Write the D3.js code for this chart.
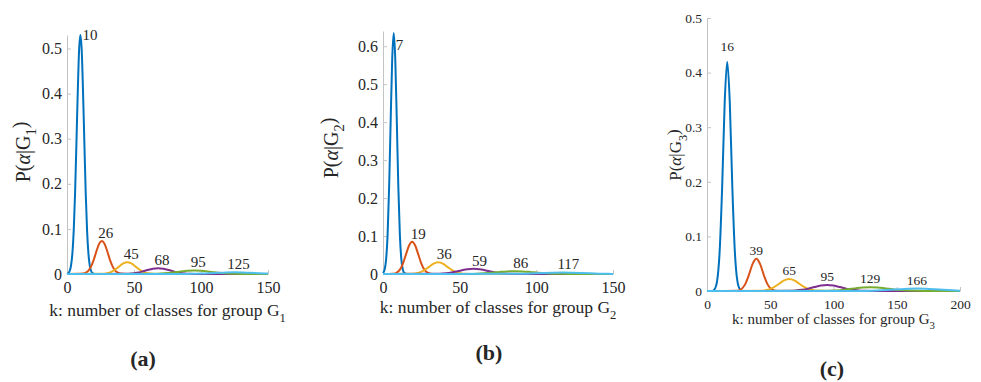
<!DOCTYPE html>
<html>
<head>
<meta charset="utf-8">
<script src="https://cdn.jsdelivr.net/npm/d3@7"></script>
<style>
  body { margin: 0; background: #fff; }
  svg { display: block; }
  text { font-family: "Liberation Serif", "DejaVu Serif", serif; fill: #262626; }
</style>
</head>
<body>
<script>
// posterior curves P(alpha|G) for the three groups, read as [k, p] pairs
var curvesA = [
  [[0,0],[1,0.002],[2,0.0066],[3,0.0185],[4,0.045],[5,0.095],[6,0.177],[7,0.286],[8,0.40],[9,0.495],[10,0.53],[11,0.495],[12,0.40],[13,0.286],[14,0.177],[15,0.095],[16,0.045],[17,0.0185],[18,0.0066],[19,0.002],[21,0],[150,0]],
  [[0,0],[12,0.0009],[14,0.0028],[16,0.0075],[18,0.017],[20,0.032],[22,0.051],[24,0.067],[26,0.073],[28,0.067],[30,0.051],[32,0.032],[34,0.017],[36,0.0075],[38,0.0028],[40,0.0009],[44,0],[150,0]],
  [[0,0],[27,0.0006],[30,0.0018],[33,0.0047],[36,0.010],[39,0.017],[42,0.0234],[45,0.026],[48,0.0234],[51,0.017],[54,0.010],[57,0.0047],[60,0.0018],[63,0.0006],[68,0],[150,0]],
  [[0,0],[44,0.0004],[48,0.0011],[52,0.0027],[56,0.0053],[60,0.0088],[64,0.0118],[68,0.013],[72,0.0118],[76,0.0088],[80,0.0053],[84,0.0027],[88,0.0011],[92,0.0004],[98,0],[150,0]],
  [[0,0],[65,0.00035],[70,0.0009],[75,0.002],[80,0.0037],[85,0.0057],[90,0.0073],[95,0.008],[100,0.0073],[105,0.0057],[110,0.0037],[115,0.002],[120,0.0009],[125,0.00035],[131,0],[150,0]],
  [[0,0],[90,0.0001],[95,0.0004],[101,0.0009],[107,0.0018],[113,0.0028],[119,0.0036],[125,0.004],[131,0.0036],[137,0.0028],[143,0.0018],[150,0.0009]]
];
var curvesB = [
  [[0,0.0024],[1,0.0106],[2,0.037],[3,0.103],[4,0.229],[5,0.403],[6,0.566],[7,0.635],[8,0.566],[9,0.403],[10,0.229],[11,0.103],[12,0.037],[13,0.0106],[14,0.0024],[16,0],[150,0]],
  [[0,0],[7,0.0009],[9,0.0037],[11,0.0115],[13,0.0276],[15,0.0516],[17,0.075],[19,0.085],[21,0.075],[23,0.0516],[25,0.0276],[27,0.0115],[29,0.0037],[31,0.0009],[35,0],[150,0]],
  [[0,0],[18,0.00034],[21,0.0014],[24,0.0042],[27,0.0101],[30,0.0188],[33,0.0273],[36,0.031],[39,0.0273],[42,0.0188],[45,0.0101],[48,0.0042],[51,0.0014],[54,0.00034],[58,0],[150,0]],
  [[0,0],[35,0.0004],[39,0.0012],[43,0.0029],[47,0.0058],[51,0.0094],[55,0.0127],[59,0.014],[63,0.0127],[67,0.0094],[71,0.0058],[75,0.0029],[79,0.0012],[83,0.0004],[90,0],[150,0]],
  [[0,0],[56,0.00033],[61,0.00086],[66,0.0019],[71,0.0034],[76,0.0053],[81,0.0069],[86,0.0075],[91,0.0069],[96,0.0053],[101,0.0034],[106,0.0019],[111,0.00086],[116,0.00033],[122,0],[150,0]],
  [[0,0],[87,0.0004],[93,0.0009],[99,0.0018],[105,0.0028],[111,0.0036],[117,0.004],[123,0.0036],[129,0.0028],[135,0.0018],[141,0.0009],[147,0.0004],[150,0.0002]]
];
var curvesC = [
  [[0,0],[4,0],[6,0.0032],[8,0.0185],[10,0.0726],[12,0.192],[14,0.346],[16,0.42],[18,0.346],[20,0.192],[22,0.0726],[24,0.0185],[26,0.0032],[28,0],[200,0]],
  [[0,0],[24,0.00065],[27,0.0033],[30,0.0117],[33,0.0287],[36,0.0493],[39,0.059],[42,0.0493],[45,0.0287],[48,0.0117],[51,0.0033],[54,0.00065],[58,0],[200,0]],
  [[0,0],[41,0.00024],[45,0.001],[49,0.003],[53,0.0071],[57,0.0133],[61,0.0194],[65,0.022],[69,0.0194],[73,0.0133],[77,0.0071],[81,0.003],[85,0.001],[89,0.00024],[95,0],[200,0]],
  [[0,0],[65,0.00027],[70,0.00083],[75,0.0021],[80,0.0043],[85,0.0073],[90,0.0099],[95,0.011],[100,0.0099],[105,0.0073],[110,0.0043],[115,0.0021],[120,0.00083],[125,0.00027],[132,0],[200,0]],
  [[0,0],[93,0.00026],[99,0.0007],[105,0.0016],[111,0.0031],[117,0.0048],[123,0.0064],[129,0.007],[135,0.0064],[141,0.0048],[147,0.0031],[153,0.0016],[159,0.0007],[165,0.00026],[172,0],[200,0]],
  [[0,0],[124,0.00021],[131,0.00054],[138,0.0012],[145,0.0021],[152,0.0032],[159,0.0041],[166,0.0045],[173,0.0041],[180,0.0032],[187,0.0021],[194,0.0012],[200,0.0006]]
];

// mode of each curve (k with the highest probability)
var peaksA = [10, 26, 45, 68, 95, 125];
var peaksB = [7, 19, 36, 59, 86, 117];
var peaksC = [16, 39, 65, 95, 129, 166];

var xTicksAB = [0, 50, 100, 150];
var xTicksC = [0, 50, 100, 150, 200];
var yTicksA = [0, 0.1, 0.2, 0.3, 0.4, 0.5];
var yTicksB = [0, 0.1, 0.2, 0.3, 0.4, 0.5, 0.6];
var yTicksC = [0, 0.1, 0.2, 0.3, 0.4, 0.5];

var groupNames = ["1", "2", "3"];
var captions = ["(a)", "(b)", "(c)"];

var colors = ["#0072BD", "#D95319", "#EDB120", "#7E2F8E", "#77AC30", "#4DBEEE"];

// first (tallest) label gets its own offset so it clears the top of the axes
var panels = [
  {curves: curvesA, peaks: peaksA, xMax: 150, yMax: 0.53, xTicks: xTicksAB, yTicks: yTicksA,
   left: 67, right: 268, bottom: 274, top: 35, fs: 16, peakFs: 15, labFs: 17.5, yFs: 20, xLabY: 316,
   yLabX: 30, yLabY: 152, pdx: 4, pdy: -3, first: {dx: 2, dy: 5, anchor: "start"},
   capX: 143, capY: 366},
  {curves: curvesB, peaks: peaksB, xMax: 150, yMax: 0.64, xTicks: xTicksAB, yTicks: yTicksB,
   left: 383, right: 613, bottom: 274, top: 31, fs: 16, peakFs: 15, labFs: 17.5, yFs: 20, xLabY: 313,
   yLabX: 338, yLabY: 148, pdx: 6, pdy: -3, first: {dx: 2, dy: 17, anchor: "start"},
   capX: 489, capY: 360},
  {curves: curvesC, peaks: peaksC, xMax: 200, yMax: 0.5, xTicks: xTicksC, yTicks: yTicksC,
   left: 707, right: 960, bottom: 291, top: 18, fs: 13.5, peakFs: 13.5, labFs: 15, yFs: 17, xLabY: 324,
   yLabX: 681, yLabY: 155, pdx: 0, pdy: -4, first: {dx: 0, dy: -11, anchor: "middle"},
   capX: 832, capY: 376}
];

var svg = d3.select("body").append("svg")
  .attr("width", 981)
  .attr("height", 382);

var fmt = function(d){ return d === 0 ? "0" : d3.format(".1f")(d); };

panels.forEach(function(p, i){
  var x = d3.scaleLinear().domain([0, p.xMax]).range([p.left, p.right]);
  var y = d3.scaleLinear().domain([0, p.yMax]).range([p.bottom, p.top]);
  var g = svg.append("g");

  var xAxis = g.append("g")
    .attr("transform", "translate(0," + p.bottom + ")")
    .call(d3.axisBottom(x).tickValues(p.xTicks).tickSizeInner(-4).tickSizeOuter(0).tickPadding(8).tickFormat(d3.format("d")));
  var yAxis = g.append("g")
    .attr("transform", "translate(" + p.left + ",0)")
    .call(d3.axisLeft(y).tickValues(p.yTicks).tickSizeInner(-4).tickSizeOuter(0).tickPadding(5).tickFormat(fmt));

  [xAxis, yAxis].forEach(function(a){
    a.selectAll("path, line").attr("stroke", "#c4c4c4");
    a.selectAll("text")
      .style("font-family", "'Liberation Serif', serif")
      .style("font-size", p.fs + "px")
      .attr("fill", "#262626");
  });

  var line = d3.line()
    .x(function(d){ return x(d[0]); })
    .y(function(d){ return y(d[1]); })
    .curve(d3.curveMonotoneX);

  p.curves.forEach(function(c, j){
    g.append("path")
      .datum(c)
      .attr("fill", "none")
      .attr("stroke", colors[j])
      .attr("stroke-width", 2)
      .attr("stroke-linejoin", "round")
      .attr("d", line);
  });

  // mode labels above each curve
  p.peaks.forEach(function(k, j){
    var top = d3.max(p.curves[j], function(d){ return d[1]; });
    var off = j === 0 ? p.first : {dx: p.pdx, dy: p.pdy, anchor: "middle"};
    g.append("text")
      .attr("x", x(k) + off.dx)
      .attr("y", y(top) + off.dy)
      .attr("text-anchor", off.anchor)
      .style("font-size", p.peakFs + "px")
      .text(k);
  });

  // axis titles
  var xl = g.append("text")
    .attr("x", (p.left + p.right) / 2)
    .attr("y", p.xLabY)
    .attr("text-anchor", "middle")
    .style("font-size", p.labFs + "px");
  xl.append("tspan").text("k: number of classes for group G");
  xl.append("tspan").attr("dy", "0.45em").style("font-size", (p.labFs * 0.72) + "px").text(groupNames[i]);

  var yl = g.append("text")
    .attr("transform", "translate(" + p.yLabX + "," + p.yLabY + ") rotate(-90)")
    .attr("text-anchor", "middle")
    .style("font-size", p.yFs + "px");
  yl.append("tspan").text("P(");
  yl.append("tspan").style("font-style", "italic").text("α");
  yl.append("tspan").text("|G");
  yl.append("tspan").attr("dy", "0.45em").style("font-size", (p.yFs * 0.72) + "px").text(groupNames[i]);
  yl.append("tspan").attr("dy", "-0.45em").text(")");

  svg.append("text")
    .attr("x", p.capX)
    .attr("y", p.capY)
    .attr("text-anchor", "middle")
    .style("font-size", "22px")
    .style("font-weight", "bold")
    .attr("fill", "#000")
    .text(captions[i]);
});
</script>
</body>
</html>
